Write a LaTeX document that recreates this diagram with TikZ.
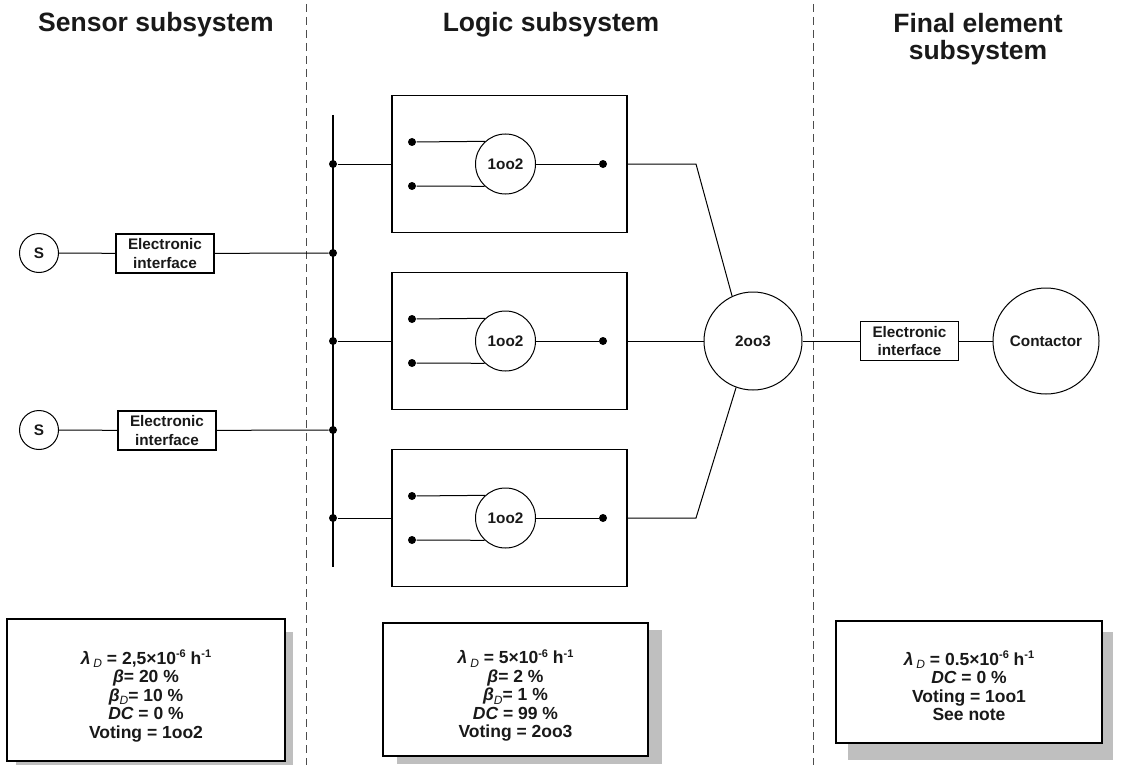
\documentclass[tikz,border=0pt]{standalone}
\usepackage{fontspec}
\setmainfont{Liberation Sans}
% small italic subscript D and raised exponents for the parameter lists
\newcommand\gsub{\raisebox{-0.35ex}{\fontsize{12}{12}\selectfont\mdseries\itshape D}}
\newcommand\gsup[1]{\raisebox{0.75ex}{\fontsize{11}{11}\selectfont #1}}
\begin{document}
\begin{tikzpicture}[x=1pt,y=-1pt,
  line width=1pt,
  every node/.style={font=\bfseries\fontsize{15.3}{18.5}\selectfont,text=black!90},
  dot/.style={circle,fill=black,inner sep=0pt,minimum size=8pt},
  eibox/.style={draw,line width=1.2pt,minimum width=98pt,minimum height=39pt,inner sep=1pt,align=center},
  sensor/.style={draw,circle,minimum size=39pt,inner sep=0pt},
  vote/.style={draw,circle,inner sep=0pt},
  chan/.style={draw,line width=1.3pt,minimum width=235pt,minimum height=137pt,inner sep=0pt},
  parbox/.style={draw,fill=white,line width=1.3pt,inner sep=0pt},
  partext/.style={align=center,inner sep=0pt,font=\bfseries\fontsize{17.5}{18.5}\selectfont},
  shadowfill/.style={fill=black!25},
  divider/.style={draw=black!70,dash pattern=on 8pt off 5pt,line width=1pt},
  ttl/.style={font=\bfseries\fontsize{26.5}{27}\selectfont,align=center,inner sep=0pt}
]
\useasboundingbox (0,0) rectangle (1124,765);

% subsystem dividers
\draw[divider] (306,4) -- (306,765);
\draw[divider] (813,4) -- (813,765);

% headings
\node[ttl,anchor=base] at (156,32) {Sensor subsystem};
\node[ttl,anchor=base] at (551,32) {Logic subsystem};
\node[ttl,anchor=north] at (978,13) {Final element\\subsystem};

% input bus
\coordinate (bustop) at (333,115);
\coordinate (busbot) at (333,567);
\draw[line width=2.5pt] (bustop) -- (busbot);

% sensors
\node[sensor] (s1) at (39,253) {S};
\node[eibox] (ei1) at (165,253.5) {Electronic\\interface};
\node[dot] (bs1) at (333,253) {};
\draw (s1) -- (ei1) -- (bs1);

\node[sensor] (s2) at (39,430) {S};
\node[eibox] (ei2) at (167,430.5) {Electronic\\interface};
\node[dot] (bs2) at (333,430) {};
\draw (s2) -- (ei2) -- (bs2);

% three logic channels
\foreach \i/\y in {1/164,2/341,3/518}{
  \node[chan] (ch\i) at (509.5,\y) {};
  \node[dot] (bj\i) at (333,\y) {};
  \draw (bj\i) -- (ch\i.west);
  \node[vote,minimum size=60pt] (v\i) at (505.5,\y) {1oo2};
  \node[dot] (ina\i) at (412,\y-22) {};
  \node[dot] (inb\i) at (412,\y+22) {};
  \node[dot] (out\i) at (603,\y) {};
  \draw (ina\i) -- (v\i.132.8);
  \draw (inb\i) -- (v\i.227.2);
  \draw (v\i) -- (out\i);
}

% 2oo3 voter
\node[vote,minimum size=98pt] (v23) at (753,341) {2oo3};
\coordinate (k1) at (696,164);
\coordinate (k3) at (696,518);
\draw (ch1.east) -- (k1) -- (v23.115);
\draw (ch2.east) -- (v23.west);
\draw (ch3.east) -- (k3) -- (v23.250);

% final element
\node[eibox] (ei3) at (909.5,341) {Electronic\\interface};
\node[vote,minimum size=106pt] (ctr) at (1046,341) {Contactor};
\draw (v23) -- (ei3) -- (ctr);

% parameter panels with drop shadows
\fill[shadowfill] (16,632) rectangle (293,766);
\node[parbox,minimum width=278pt,minimum height=142pt] (p1) at (146,690) {};
\node[partext] (t1) at ([yshift=-6pt]p1.center)
  {{\itshape λ}\,\gsub\ = 2,5×10\gsup{-6} h\gsup{-1}\\
   {\itshape β}= 20 \%\\
   {\itshape β}\gsub= 10 \%\\
   {\itshape DC} = 0 \%\\
   Voting = 1oo2};

\fill[shadowfill] (397,630) rectangle (662,764);
\node[parbox,minimum width=265pt,minimum height=133pt] (p2) at (515.5,689.5) {};
\node[partext] (t2) at ([yshift=-6pt]p2.center)
  {{\itshape λ}\,\gsub\ = 5×10\gsup{-6} h\gsup{-1}\\
   {\itshape β}= 2 \%\\
   {\itshape β}\gsub= 1 \%\\
   {\itshape DC} = 99 \%\\
   Voting = 2oo3};

\fill[shadowfill] (848,632) rectangle (1113,760);
\node[parbox,minimum width=266pt,minimum height=122pt] (p3) at (969,682) {};
\node[partext] (t3) at ([yshift=-4pt]p3.center)
  {{\itshape λ}\,\gsub\ = 0.5×10\gsup{-6} h\gsup{-1}\\
   {\itshape DC} = 0 \%\\
   Voting = 1oo1\\
   See note};
\end{tikzpicture}
\end{document}
